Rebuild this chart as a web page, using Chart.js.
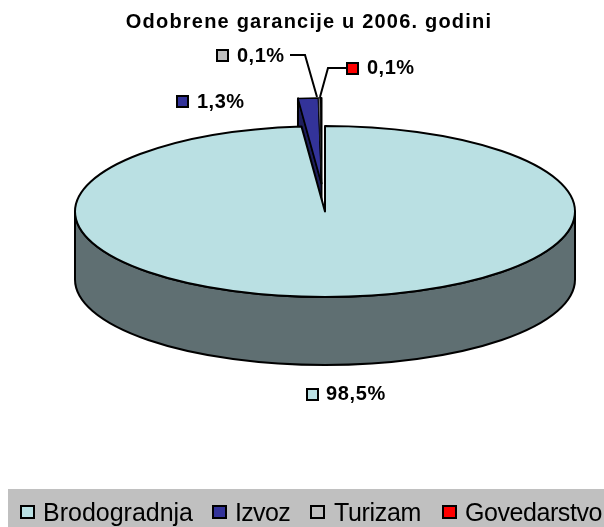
<!DOCTYPE html>
<html>
<head>
<meta charset="utf-8">
<style>html,body{margin:0;padding:0;background:#fff}canvas{display:block}</style>
<script src="https://cdn.jsdelivr.net/npm/chart.js@4"></script>
</head>
<body>
<canvas id="c" width="604" height="527"></canvas>
<script>
const chartTitle = "Odobrene garancije u 2006. godini";
const categories = ["Brodogradnja", "Izvoz", "Turizam", "Govedarstvo"];
const values = [98.5, 1.3, 0.1, 0.1];
const valueLabels = ["98,5%", "1,3%", "0,1%", "0,1%"];
const sliceColors = ["#BAE0E3", "#333399", "#C0C0C0", "#FF0000"];

const FF = '"Liberation Sans", Arial, sans-serif';
const SCREEN = {cx: 325, cy: 211.5, rx: 250, ry: 85.5, depth: 68, lift: 28, shiftX: -3.5};
const K = SCREEN.ry / SCREEN.rx;

function applyTf(ctx, chart) {
  const a = chart.getDatasetMeta(0).data[0];
  ctx.transform(1, 0, 0, K, SCREEN.cx - a.x, SCREEN.cy - a.y * K);
}
function pt(chart, x, y) {
  const a = chart.getDatasetMeta(0).data[0];
  return [x + SCREEN.cx - a.x, SCREEN.cy + (y - a.y) * K];
}
function fitText(ctx, t, x, y, w) {
  ctx.letterSpacing = "0px";
  const m = ctx.measureText(t).width;
  ctx.letterSpacing = ((w - m) / t.length).toFixed(3) + "px";
  ctx.fillText(t, x, y);
  ctx.letterSpacing = "0px";
}

const pie3d = {
  id: "pie3d",
  afterDatasetUpdate(chart) {
    const d = chart.getDatasetMeta(0).data;
    for (let i = 1; i < d.length; i++) {
      d[i].x = d[0].x + SCREEN.shiftX;
      d[i].y = d[0].y - SCREEN.lift / K;
    }
  },
  beforeDatasetDraw(chart) {
    const ctx = chart.ctx, d = chart.getDatasetMeta(0).data;
    ctx.save();
    ctx.lineWidth = 2; ctx.strokeStyle = "#000"; ctx.lineJoin = "round";
    ctx.beginPath();
    ctx.ellipse(SCREEN.cx, SCREEN.cy + SCREEN.depth, SCREEN.rx, SCREEN.ry, 0, 0, Math.PI);
    ctx.ellipse(SCREEN.cx, SCREEN.cy, SCREEN.rx, SCREEN.ry, 0, Math.PI, 0, true);
    ctx.closePath();
    ctx.fillStyle = "#5F6F72"; ctx.fill(); ctx.stroke();
    const b = d[1];
    const p0 = pt(chart, b.x, b.y);
    const p1 = pt(chart, b.x + Math.cos(b.startAngle) * b.outerRadius, b.y + Math.sin(b.startAngle) * b.outerRadius);
    ctx.beginPath();
    ctx.moveTo(p1[0], p1[1]);
    ctx.lineTo(p1[0], p1[1] + SCREEN.depth);
    ctx.lineTo(p0[0], p0[1] + SCREEN.depth);
    ctx.lineTo(p0[0], p0[1]);
    ctx.closePath();
    ctx.fillStyle = "#1E1E5C"; ctx.fill(); ctx.stroke();
    ctx.restore();
    ctx.save();
    applyTf(ctx, chart);
  },
  afterDatasetDraw(chart) {
    const ctx = chart.ctx, d = chart.getDatasetMeta(0).data;
    [0, 3, 1, 2].forEach(i => {
      const a = d[i];
      ctx.beginPath();
      ctx.moveTo(a.x, a.y);
      ctx.arc(a.x, a.y, a.outerRadius, a.startAngle, a.endAngle);
      ctx.closePath();
      ctx.save();
      ctx.setTransform(1, 0, 0, 1, 0, 0);
      if (i === 2) { ctx.fillStyle = sliceColors[2]; ctx.fill(); }
      ctx.lineWidth = i === 0 || i === 3 ? 2 : (i === 1 ? 1.5 : 0.8);
      ctx.lineJoin = "round";
      ctx.strokeStyle = "#000";
      ctx.stroke();
      ctx.restore();
    });
    ctx.restore();
  },
  afterDraw(chart) {
    const ctx = chart.ctx;
    ctx.save();
    ctx.strokeStyle = "#000"; ctx.lineWidth = 2;
    ctx.beginPath(); ctx.moveTo(290, 55); ctx.lineTo(305, 55); ctx.lineTo(317, 97); ctx.stroke();
    ctx.beginPath(); ctx.moveTo(346, 68); ctx.lineTo(328, 68); ctx.lineTo(320, 97); ctx.stroke();
    const spots = [[306, 388, 326, 400, 60], [176, 95, 197, 108, 47.5], [216, 49, 237, 62, 47.5], [346, 62, 367, 74, 47.5]];
    ctx.textAlign = "left"; ctx.textBaseline = "alphabetic";
    valueLabels.forEach((t, i) => {
      const [sx, sy, tx, by, w] = spots[i];
      ctx.fillStyle = sliceColors[i];
      ctx.fillRect(sx + 1, sy + 1, 11, 11);
      ctx.lineWidth = 2; ctx.strokeStyle = "#000";
      ctx.strokeRect(sx + 1, sy + 1, 11, 11);
      ctx.fillStyle = "#000";
      ctx.font = "bold 20px " + FF;
      fitText(ctx, t, tx, by, w);
    });
    ctx.fillStyle = "#C0C0C0";
    ctx.fillRect(8, 489, 596, 38);
    const xs = [[21, 43, 150], [213, 235, 55], [311, 334, 87], [443, 465, 137]];
    categories.forEach((t, i) => {
      ctx.fillStyle = sliceColors[i];
      ctx.fillRect(xs[i][0], 506, 13, 12);
      ctx.lineWidth = 2; ctx.strokeStyle = "#000";
      ctx.strokeRect(xs[i][0], 506, 13, 12);
      ctx.fillStyle = "#000";
      ctx.font = "25px " + FF;
      fitText(ctx, t, xs[i][1], 521, xs[i][2]);
    });
    ctx.restore();
  }
};

new Chart(document.getElementById("c"), {
  type: "pie",
  data: {
    labels: categories,
    datasets: [{data: values, backgroundColor: sliceColors, borderWidth: 0, radius: SCREEN.rx, clip: false}]
  },
  options: {
    responsive: false,
    animation: false,
    layout: {padding: {left: 14}},
    plugins: {
      legend: {display: false},
      tooltip: {enabled: false},
      title: {
        display: true, text: chartTitle, color: "#000",
        font: {family: FF, size: 20, weight: "bold"},
        padding: {top: 10, bottom: 0}
      }
    }
  },
  plugins: [pie3d, {id: "spacing", beforeDraw(chart) { chart.ctx.letterSpacing = "1.2px"; }, beforeDatasetsDraw(chart) { chart.ctx.letterSpacing = "0px"; }}]
});
</script>
</body>
</html>
